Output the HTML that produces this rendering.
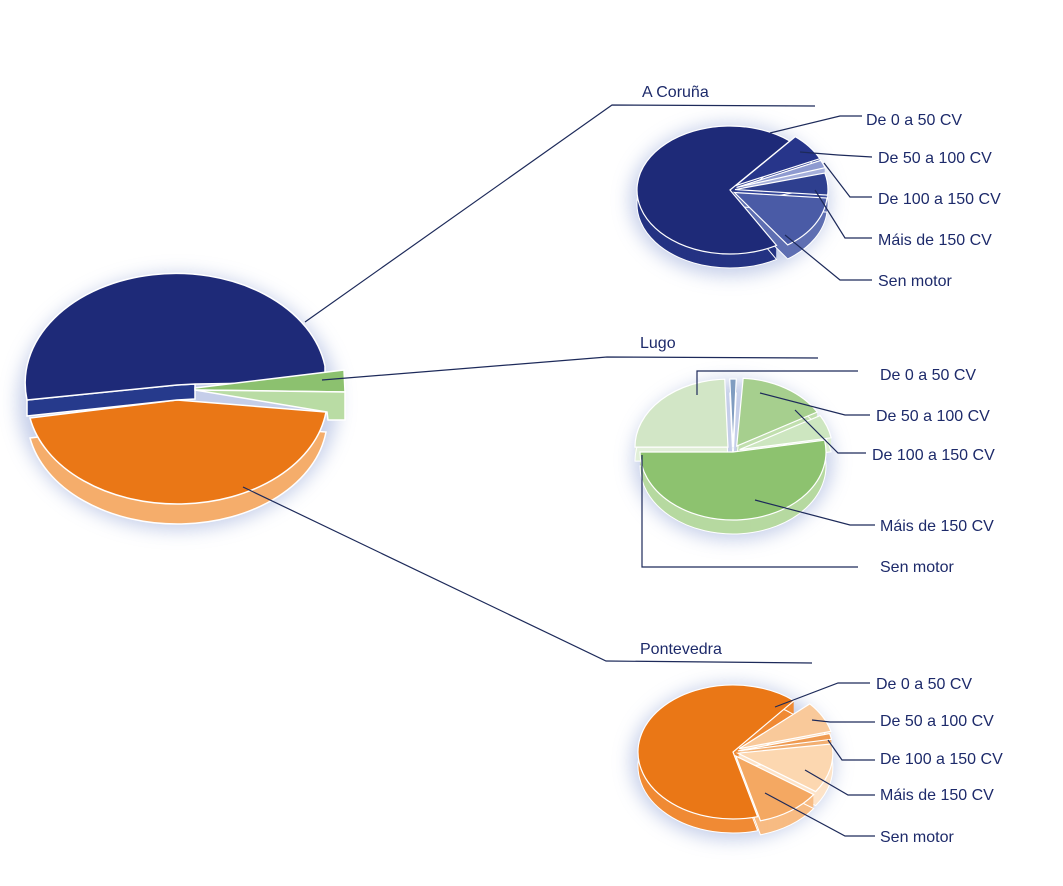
<!DOCTYPE html>
<html><head><meta charset="utf-8"><style>
html,body{margin:0;padding:0;background:#fff;}
svg{display:block;}
text{font-family:"Liberation Sans","DejaVu Sans",sans-serif;font-size:16px;fill:#1d2a6a;}
</style></head><body>
<svg id="s" width="1063" height="886" viewBox="0 0 1063 886" xmlns="http://www.w3.org/2000/svg">
<defs><filter id="b" x="-30%" y="-30%" width="160%" height="160%"><feGaussianBlur stdDeviation="9"/></filter></defs>
<g filter="url(#b)" fill="#b7c3e4" opacity="0.8">
<ellipse cx="178" cy="402" rx="160" ry="128"/>
<ellipse cx="730" cy="200" rx="100" ry="76"/>
<ellipse cx="733" cy="460" rx="100" ry="80"/>
<ellipse cx="733" cy="762" rx="102" ry="78"/>
</g>
<g id="pies"></g>
<g stroke="#fff" stroke-width="1.5">
<path d="M30,418 L177,400 L326,412 A150,106 0 0 1 30,418 Z" fill="#f5ad6b" transform="translate(0,20)"/>
<path d="M30,418 L177,400 L326,412 A150,106 0 0 1 30,418 Z" fill="#ea7716"/>
<path d="M27,400 L27,416 L177,400 L195,399 L195,384 L177,385 Z" fill="#263a8c"/>
<path d="M27,400 A150,109 0 0 1 325,366 L325,382 L195,384 L177,385 Z" fill="#1e2a78"/>
<path d="M195,388 L344,370 L345,392 L195,390 Z" fill="#8cc16f"/>
<path d="M195,390 L345,392 L345,420 L328,420 L327,412 Z" fill="#b9dca4"/>
</g>
<g stroke="#1d2a5a" stroke-width="1.2" fill="none">
<polyline points="305,322 612,105 815,106"/>
<polyline points="322,380 607,357 818,358"/>
<polyline points="243,487 606,661 812,663"/>
<polyline points="770,133 840,116 862,116"/>
<polyline points="800,152 838,155 872,157"/>
<polyline points="824,163 850,197 872,197"/>
<polyline points="815,190 845,238 872,238"/>
<polyline points="785,235 840,280 872,280"/>
<polyline points="697,395 697,371 858,371"/>
<polyline points="760,393 845,415 870,415"/>
<polyline points="795,410 838,453 866,453"/>
<polyline points="755,500 850,525 875,525"/>
<polyline points="642,455 642,567 858,567"/>
<polyline points="775,707 838,683 870,683"/>
<polyline points="812,720 830,722 875,722"/>
<polyline points="828,740 842,760 875,760"/>
<polyline points="805,770 848,795 875,795"/>
<polyline points="765,793 845,836 875,836"/>
</g>
<text x="642" y="97">A Coruña</text>
<text x="866" y="125">De 0 a 50 CV</text>
<text x="878" y="163">De 50 a 100 CV</text>
<text x="878" y="204">De 100 a 150 CV</text>
<text x="878" y="245">Máis de 150 CV</text>
<text x="878" y="286">Sen motor</text>
<text x="640" y="348">Lugo</text>
<text x="880" y="380">De 0 a 50 CV</text>
<text x="876" y="421">De 50 a 100 CV</text>
<text x="872" y="460">De 100 a 150 CV</text>
<text x="880" y="531">Máis de 150 CV</text>
<text x="880" y="572">Sen motor</text>
<text x="640" y="654">Pontevedra</text>
<text x="876" y="689">De 0 a 50 CV</text>
<text x="880" y="726">De 50 a 100 CV</text>
<text x="880" y="764">De 100 a 150 CV</text>
<text x="880" y="800">Máis de 150 CV</text>
<text x="880" y="842">Sen motor</text>
</svg>
<script>
(function(){
var g=document.getElementById('pies'),NS='http://www.w3.org/2000/svg';
function sec(cx,cy,rx,ry,a0,a1){var r=Math.PI/180,x0=cx+rx*Math.cos(a0*r),y0=cy+ry*Math.sin(a0*r),x1=cx+rx*Math.cos(a1*r),y1=cy+ry*Math.sin(a1*r);var big=((a1-a0+360)%360)>180?1:0;return 'M'+cx+','+cy+' L'+x0+','+y0+' A'+rx+','+ry+' 0 '+big+' 1 '+x1+','+y1+' Z';}
function pie(cx,cy,rx,ry,d,sl){
 sl.forEach(function(s){var m=(s[0]+(s[1]<s[0]?s[1]+360:s[1]))/2*Math.PI/180;var ox=cx+(s[4]||0)*Math.cos(m),oy=cy+(s[4]||0)*Math.sin(m);
  for(var k=d;k>0;k-=1){var p=document.createElementNS(NS,'path');p.setAttribute('d',sec(ox,oy+k,rx,ry,s[0],s[1]));p.setAttribute('fill',s[3]);g.appendChild(p);}
  var e=document.createElementNS(NS,'path');e.setAttribute('d',sec(ox,oy+d,rx,ry,s[0],s[1]));e.setAttribute('fill','none');e.setAttribute('stroke','#fff');e.setAttribute('stroke-width','1');g.appendChild(e);});
 sl.forEach(function(s){var m=(s[0]+(s[1]<s[0]?s[1]+360:s[1]))/2*Math.PI/180;var ox=cx+(s[4]||0)*Math.cos(m),oy=cy+(s[4]||0)*Math.sin(m);
  var p=document.createElementNS(NS,'path');p.setAttribute('d',sec(ox,oy,rx,ry,s[0],s[1]));p.setAttribute('fill',s[2]);p.setAttribute('stroke','#fff');p.setAttribute('stroke-width','1.2');g.appendChild(p);});
}
pie(730,190,93,64,14,[[60,310,'#1e2a78','#243383',0],[310,335,'#27358a','#2d3b90',7],[335,342,'#8e9ad0','#a5afdb',7],[345,5,'#2e3f8f','#34469a',5],[5,55,'#4a5ba6','#5f6fb2',5]]);
pie(733,452,93,68,14,[[350,180,'#8dc26f','#b6d9a0',0],[180,268,'#d2e6c6','#e1efd8',7],[268,272,'#7f9cc0','#9ab0cc',5],[274,330,'#a6cf8e','#c1dfae',7],[330,350,'#cde6c0','#dcefd2',7]]);
pie(733,752,95,67,14,[[75,310,'#ea7716','#f08a34',0],[318,345,'#f9c99a','#fbd8b5',7],[345,350,'#ef9a50','#f2ae70',5],[352,35,'#fcd7b0','#fde3c8',5],[35,75,'#f4a862','#f7bb83',5]]);
})();
</script>
</body></html>
